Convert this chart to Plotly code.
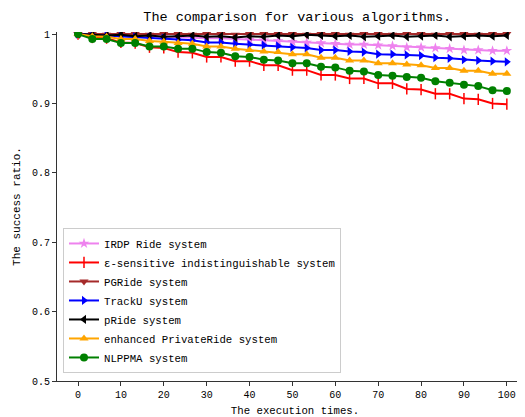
import numpy as np
import plotly.graph_objects as go

x_vals = [round(i * 100 / 30, 4) for i in range(31)]

irdp = [1.0, 0.999, 0.999, 0.998, 0.998, 0.997, 0.997, 0.996, 0.995, 0.994, 0.994, 0.993, 0.992, 0.991, 0.990, 0.989,
        0.988, 0.987, 0.986, 0.985, 0.985, 0.984, 0.983, 0.981, 0.981, 0.980, 0.979, 0.977, 0.977, 0.976, 0.976]
eps = [1.0, 0.995, 0.994, 0.988, 0.987, 0.981, 0.980, 0.974, 0.973, 0.967, 0.967, 0.961, 0.961, 0.955, 0.955, 0.948,
       0.948, 0.941, 0.941, 0.936, 0.936, 0.929, 0.929, 0.921, 0.920, 0.914, 0.914, 0.907, 0.906, 0.900, 0.899]
pgride = [1.0, 1.0, 0.999, 1.0, 1.0, 0.999, 1.0, 1.0, 0.999, 1.0, 1.0, 0.999, 1.0, 1.0, 1.0, 1.0,
          0.999, 1.0, 1.0, 0.999, 1.0, 1.0, 0.999, 1.0, 1.0, 0.999, 1.0, 1.0, 0.999, 1.0, 1.0]
tracku = [1.0, 0.999, 0.998, 0.997, 0.996, 0.995, 0.994, 0.992, 0.991, 0.988, 0.988, 0.986, 0.985, 0.984, 0.983, 0.981,
          0.980, 0.977, 0.977, 0.975, 0.974, 0.971, 0.971, 0.970, 0.969, 0.966, 0.965, 0.963, 0.962, 0.961, 0.960]
pride = [1.0, 0.999, 0.998, 0.999, 0.997, 0.998, 0.996, 0.997, 0.998, 0.996, 0.997, 0.995, 0.997, 0.996, 0.998, 0.997,
         0.999, 0.998, 0.997, 0.998, 0.996, 0.997, 0.998, 0.996, 0.997, 0.998, 0.996, 0.997, 0.998, 0.997, 0.998]
enhanced = [1.0, 0.997, 0.996, 0.993, 0.993, 0.990, 0.989, 0.987, 0.986, 0.982, 0.982, 0.979, 0.977, 0.975, 0.974, 0.971,
            0.971, 0.966, 0.966, 0.962, 0.962, 0.958, 0.958, 0.956, 0.955, 0.951, 0.951, 0.947, 0.947, 0.943, 0.943]
nlppma = [1.0, 0.993, 0.993, 0.987, 0.987, 0.982, 0.982, 0.979, 0.979, 0.974, 0.973, 0.968, 0.967, 0.963, 0.962, 0.958,
          0.958, 0.953, 0.952, 0.947, 0.946, 0.941, 0.940, 0.938, 0.937, 0.932, 0.930, 0.927, 0.925, 0.919, 0.918]

series_names = ["IRDP Ride system", "ε-sensitive indistinguishable system", "PGRide system", "TrackU system",
                "pRide system", "enhanced PrivateRide system", "NLPPMA system"]
series_values = [irdp, eps, pgride, tracku, pride, enhanced, nlppma]
colors = ["#EE82EE", "#FF0000", "#A52A2A", "#0000FF", "#000000", "#FFA500", "#008000"]
symbols = ["star", "line-ns", "triangle-down", "triangle-right", "triangle-left", "triangle-up", "circle"]

x_ticks = list(range(0, 101, 10))
y_ticks = [0.5, 0.6, 0.7, 0.8, 0.9, 1.0]
y_tick_labels = ["0.5", "0.6", "0.7", "0.8", "0.9", "1"]

MONO = "Liberation Mono, DejaVu Sans Mono, monospace"

fig = go.Figure()
for name, vals, col, sym in zip(series_names, series_values, colors, symbols):
    marker = dict(symbol=sym, size=8, color=col)
    if sym == "line-ns":
        marker = dict(symbol=sym, size=8, color=col, line=dict(color=col, width=1.5))
    fig.add_trace(go.Scatter(x=x_vals, y=vals, mode="lines+markers", name=name,
                             line=dict(color=col, width=2), marker=marker))

fig.update_layout(
    width=525, height=417,
    margin=dict(l=49, r=0, t=24, b=44),
    plot_bgcolor="white", paper_bgcolor="white",
    title=dict(text="The comparison for various algorithms.", x=0.551, xanchor="center",
               y=0.981, yanchor="middle", font=dict(family=MONO, size=13.5, color="black")),
    showlegend=True,
    legend=dict(x=0.0126, y=0.023, xanchor="left", yanchor="bottom",
                bgcolor="rgba(255,255,255,0.85)", bordercolor="#cccccc", borderwidth=1,
                font=dict(family=MONO, size=10.7, color="black"), tracegroupgap=0, itemwidth=30),
)
fig.update_xaxes(range=[-4.9, 106.1], tickvals=x_ticks, showgrid=False, zeroline=False, automargin=False,
                 showline=True, linecolor="#333333", linewidth=1, ticks="outside", ticklen=4,
                 tickcolor="#333333", tickfont=dict(family=MONO, size=10, color="black"),
                 title=dict(text="The execution times.", font=dict(family=MONO, size=10.7, color="black"),
                            standoff=6))
fig.update_yaxes(range=[0.5, 1.003], tickvals=y_ticks, ticktext=y_tick_labels, showgrid=False, automargin=False,
                 zeroline=False, showline=True, linecolor="#333333", linewidth=1, ticks="outside",
                 ticklen=4, tickcolor="#333333", tickfont=dict(family=MONO, size=10, color="black"),
                 title=dict(text="The success ratio.", font=dict(family=MONO, size=11, color="black"),
                            standoff=9))

fig.write_html("out.html")
